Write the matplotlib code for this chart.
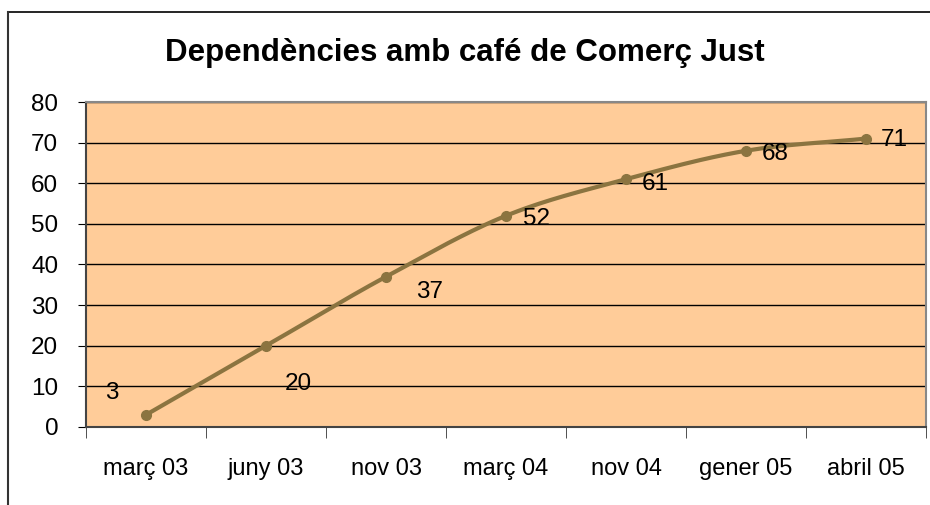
import matplotlib
matplotlib.use("Agg")
import matplotlib.pyplot as plt
from matplotlib.lines import Line2D
import numpy as np

plt.rcParams['font.family'] = ['Liberation Sans', 'DejaVu Sans']

categories = ['març 03', 'juny 03', 'nov 03', 'març 04', 'nov 04', 'gener 05', 'abril 05']
values = [3, 20, 37, 52, 61, 68, 71]
# label offsets in pixels (dx, dy) relative to each point
label_offsets = [(-34, 22), (32, -38), (44, -15), (30, -3), (29, -5), (29, -3), (28, -1)]

line_color = '#8B7440'


def smooth(xs, ys, n=30):
    # catmull-rom through the points, like excel's smoothed line
    xs = np.asarray(xs, float)
    ys = np.asarray(ys, float)
    px = np.concatenate([[2 * xs[0] - xs[1]], xs, [2 * xs[-1] - xs[-2]]])
    py = np.concatenate([[2 * ys[0] - ys[1]], ys, [2 * ys[-1] - ys[-2]]])
    outx, outy = [], []
    for i in range(1, len(px) - 2):
        t = np.linspace(0, 1, n)
        for p, out in ((px, outx), (py, outy)):
            p0, p1, p2, p3 = p[i - 1], p[i], p[i + 1], p[i + 2]
            out.extend(0.5 * (2 * p1 + (-p0 + p2) * t + (2 * p0 - 5 * p1 + 4 * p2 - p3) * t ** 2
                              + (-p0 + 3 * p1 - 3 * p2 + p3) * t ** 3))
    return np.array(outx), np.array(outy)


fig = plt.figure(figsize=(9.3, 5.05), dpi=100)
ax = fig.add_axes([0.0925, 0.1545, 0.9032, 0.6435])
ax.set_facecolor('#FFCC99')

x = np.arange(len(categories))
sx, sy = smooth(x, values)
ax.plot(sx, sy, color=line_color, lw=3, solid_capstyle='round', zorder=3)
ax.plot(x, values, 'o', color=line_color, ms=7, zorder=4)

for xi, v, (dx, dy) in zip(x, values, label_offsets):
    ax.annotate(str(v), (xi, v), xytext=(dx, dy), textcoords='offset pixels',
                ha='center', va='center', fontsize=17.5, color='black', zorder=5)

ax.set_xlim(-0.5, len(categories) - 0.5)
ax.set_ylim(0, 80)
ax.set_yticks(range(0, 81, 10))
ax.yaxis.grid(True, color='black', lw=1)
ax.set_axisbelow(True)
ax.tick_params(axis='y', labelsize=17.5, length=6, direction='out', pad=14)

ax.set_xticks(x)
ax.set_xticklabels(categories)
ax.set_xticks(np.arange(-0.5, len(categories)), minor=True)
ax.tick_params(axis='x', which='major', length=0, labelsize=17, pad=22)
ax.tick_params(axis='x', which='minor', length=8, color='#333333')

for side in ['top', 'right']:
    ax.spines[side].set_color('#888888')
    ax.spines[side].set_linewidth(1.5)
ax.spines['left'].set_color('#444444')
ax.spines['left'].set_linewidth(1.5)
ax.spines['bottom'].set_color('#444444')
ax.spines['bottom'].set_linewidth(1.5)

fig.text(0.5, 0.895, 'Dependències amb café de Comerç Just', ha='center', va='center',
         fontsize=22.5, fontweight='bold')

# outer chart frame (only top and left edges visible)
fig.add_artist(Line2D([0.0086, 1.0], [0.976, 0.976], color='black', lw=1.2))
fig.add_artist(Line2D([0.0086, 0.0086], [0.0, 0.976], color='#333333', lw=1.5))

fig.savefig('out.png', dpi=100)
